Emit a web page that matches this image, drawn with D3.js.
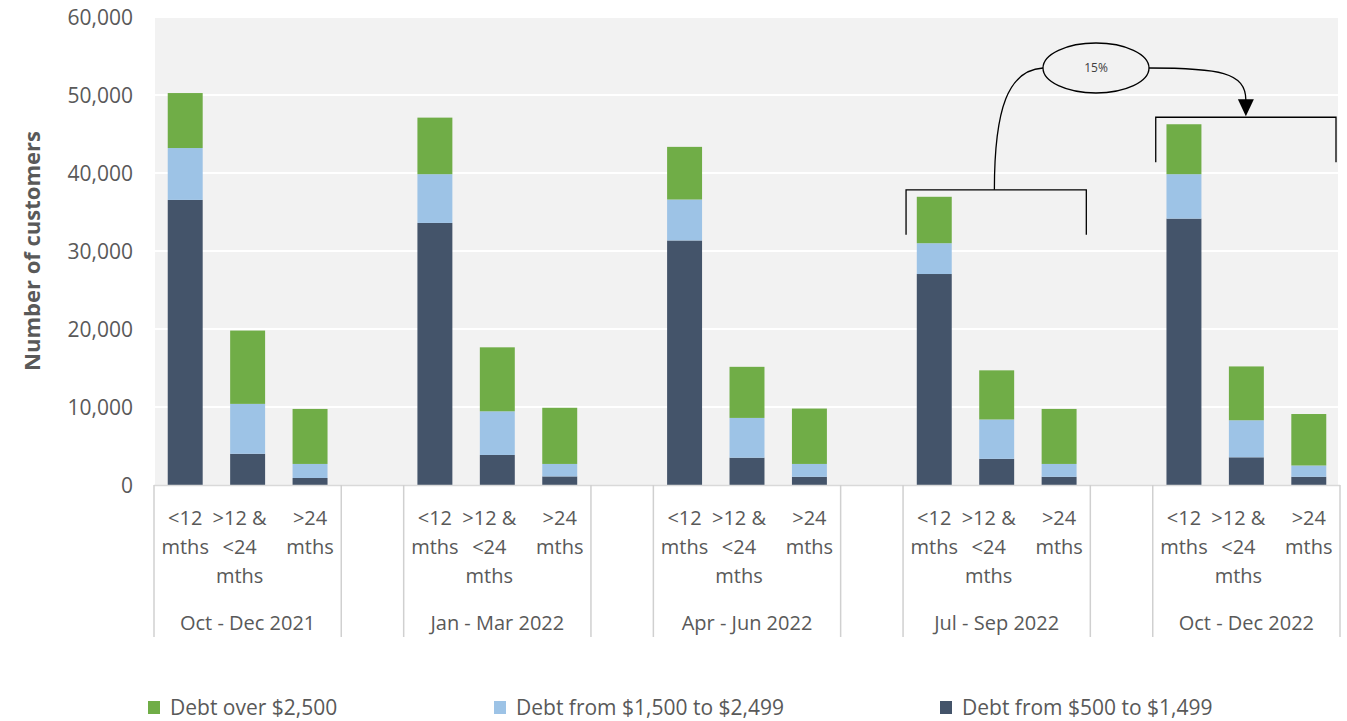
<!DOCTYPE html>
<html>
<head>
<meta charset="utf-8">
<script src="https://cdn.jsdelivr.net/npm/d3@7"></script>
<style>
  body { margin: 0; background: #fff; }
  text { font-family: "Open Sans", "Noto Sans", sans-serif; fill: #595959; }
</style>
</head>
<body>
<script>
// quarters and age bands
var periods = ["Oct - Dec 2021", "Jan - Mar 2022", "Apr - Jun 2022", "Jul - Sep 2022", "Oct - Dec 2022"];
var ageBands = [["<12", "mths"], [">12 &", "<24", "mths"], [">24", "mths"]];

// values, one row per quarter, one column per age band
var debtLow = [
  [36550, 4000, 900],
  [33600, 3850, 1100],
  [31350, 3500, 1050],
  [27050, 3350, 1050],
  [34150, 3550, 1050]
];
var debtMid = [
  [6650, 6400, 1800],
  [6250, 5600, 1600],
  [5250, 5100, 1650],
  [3950, 5050, 1650],
  [5700, 4750, 1450]
];
var debtHigh = [
  [7050, 9400, 7050],
  [7250, 8200, 7200],
  [6750, 6550, 7100],
  [5950, 6300, 7050],
  [6400, 6900, 6600]
];

var seriesNames = ["Debt from $500 to $1,499", "Debt from $1,500 to $2,499", "Debt over $2,500"];
var seriesColors = ["#44546a", "#9dc3e6", "#70ad47"];
var yTicks = [0, 10000, 20000, 30000, 40000, 50000, 60000];
var changeLabel = "15%";

var width = 1347, height = 721;

var svg = d3.select("body").append("svg")
    .attr("width", width)
    .attr("height", height);

// build the slot list: three bars per quarter, one empty slot between quarters
var slots = [];
periods.forEach(function(p, i) {
  ageBands.forEach(function(b, j) { slots.push(i + "|" + j); });
  if (i < periods.length - 1) slots.push("gap" + i);
});

var x = d3.scaleBand().domain(slots).range([154, 1340]).padding(0);
var y = d3.scaleLinear().domain([0, 60000]).range([485, 17]);
var barW = x.bandwidth() * 0.56;

// plot background + gridlines
svg.append("rect")
    .attr("x", 155).attr("y", y(60000))
    .attr("width", 1338 - 155).attr("height", y(0) - y(60000))
    .style("fill", "#f2f2f2");

svg.selectAll(".grid")
    .data(yTicks.filter(function(d) { return d > 0; }))
    .enter().append("line")
    .attr("x1", 155).attr("x2", 1338)
    .attr("y1", function(d) { return y(d); })
    .attr("y2", function(d) { return y(d); })
    .style("stroke", "#fff")
    .style("stroke-width", 2);

svg.selectAll(".ytick")
    .data(yTicks)
    .enter().append("text")
    .attr("x", 133)
    .attr("y", function(d) { return y(d); })
    .attr("dy", "0.36em")
    .attr("text-anchor", "end")
    .style("font-size", "21px")
    .text(function(d) { return d3.format(",")(d); });

svg.append("text")
    .attr("transform", "translate(40," + ((y(0) + y(60000)) / 2) + ") rotate(-90)")
    .attr("text-anchor", "middle")
    .style("font-size", "22px")
    .style("font-weight", "bold")
    .text("Number of customers");

// stacked bars
var bars = [];
periods.forEach(function(p, i) {
  ageBands.forEach(function(b, j) {
    var vals = [debtLow[i][j], debtMid[i][j], debtHigh[i][j]];
    var base = 0;
    vals.forEach(function(v, k) {
      bars.push({ slot: i + "|" + j, y0: base, y1: base + v, k: k });
      base += v;
    });
  });
});

svg.selectAll(".bar")
    .data(bars)
    .enter().append("rect")
    .attr("class", "bar")
    .attr("x", function(d) { return x(d.slot) + (x.bandwidth() - barW) / 2; })
    .attr("y", function(d) { return y(d.y1); })
    .attr("width", barW)
    .attr("height", function(d) { return y(d.y0) - y(d.y1); })
    .style("fill", function(d) { return seriesColors[d.k]; });

// category axis
svg.append("line")
    .attr("x1", 154).attr("x2", 1340)
    .attr("y1", y(0) + 0.5).attr("y2", y(0) + 0.5)
    .style("stroke", "#d9d9d9").style("stroke-width", 1.5);

var bounds = slots.filter(function(s, i) {
  return i === 0 || s.indexOf("gap") === 0 || slots[i - 1].indexOf("gap") === 0;
}).map(function(s) { return x(s); });
bounds.push(1340);

svg.selectAll(".sep")
    .data(bounds)
    .enter().append("line")
    .attr("x1", function(d) { return d; }).attr("x2", function(d) { return d; })
    .attr("y1", y(0)).attr("y2", 637)
    .style("stroke", "#d0d0d0").style("stroke-width", 1.5);

periods.forEach(function(p, i) {
  ageBands.forEach(function(lines, j) {
    var cx = x(i + "|" + j) + x.bandwidth() / 2 + (j === 1 ? -8 : 0);
    var t = svg.append("text")
        .attr("text-anchor", "middle")
        .style("font-size", "20px");
    lines.forEach(function(l, n) {
      t.append("tspan").attr("x", cx).attr("y", 525 + n * 29).text(l);
    });
  });
  var gx = (x(i + "|0") + x(i + "|2") + x.bandwidth()) / 2;
  svg.append("text")
      .attr("x", gx).attr("y", 630)
      .attr("text-anchor", "middle")
      .style("font-size", "20px")
      .text(p);
});

// legend
var legendOrder = [2, 1, 0];
var legendX = [148, 494, 940];
legendOrder.forEach(function(k, n) {
  var lx = legendX[n];
  svg.append("rect")
      .attr("x", lx).attr("y", 701)
      .attr("width", 12).attr("height", 13)
      .style("fill", seriesColors[k]);
  svg.append("text")
      .attr("x", lx + 22).attr("y", 715)
      .style("font-size", "21px")
      .text(seriesNames[k]);
});

// annotation: brackets over Jul-Sep and Oct-Dec 2022 and the change bubble
function bracket(i) {
  var total = debtLow[i][0] + debtMid[i][0] + debtHigh[i][0];
  var x0 = x(i + "|0") + 3, x1 = x(i + "|2") + x.bandwidth() - 4;
  var top = y(total) - 7;
  svg.append("path")
      .attr("d", "M" + x0 + "," + (top + 45) + "V" + top + "H" + x1 + "V" + (top + 45))
      .style("fill", "none").style("stroke", "#000").style("stroke-width", 1.3);
  return { x0: x0, x1: x1, top: top };
}
var bA = bracket(3), bB = bracket(4);
var ax = bA.x0 + (bA.x1 - bA.x0) * 0.49;
var bx = (bB.x0 + bB.x1) / 2;
var ex = 1096, ey = 68, rx = 53, ry = 25;

svg.append("path")
    .attr("d", "M" + ax + "," + bA.top + "C" + ax + "," + (ey + 40) + " " + (ax + 14) + "," + (ey + 2) + " " + (ex - rx) + "," + ey)
    .style("fill", "none").style("stroke", "#000").style("stroke-width", 1.3);
svg.append("path")
    .attr("d", "M" + (ex + rx) + "," + ey + "C" + (ex + rx + 70) + "," + ey + " " + bx + "," + (ey + 4) + " " + bx + "," + (bB.top - 17))
    .style("fill", "none").style("stroke", "#000").style("stroke-width", 1.3);
svg.append("path")
    .attr("d", "M" + (bx - 8) + "," + (bB.top - 18) + "L" + (bx + 8) + "," + (bB.top - 18) + "L" + bx + "," + (bB.top - 1) + "Z")
    .style("fill", "#000");
svg.append("ellipse")
    .attr("cx", ex).attr("cy", ey).attr("rx", rx).attr("ry", ry)
    .style("fill", "#f2f2f2").style("stroke", "#000").style("stroke-width", 1.3);
svg.append("text")
    .attr("x", ex).attr("y", ey).attr("dy", "0.36em")
    .attr("text-anchor", "middle")
    .style("font-size", "12px")
    .style("fill", "#404040")
    .text(changeLabel);
</script>
</body>
</html>
